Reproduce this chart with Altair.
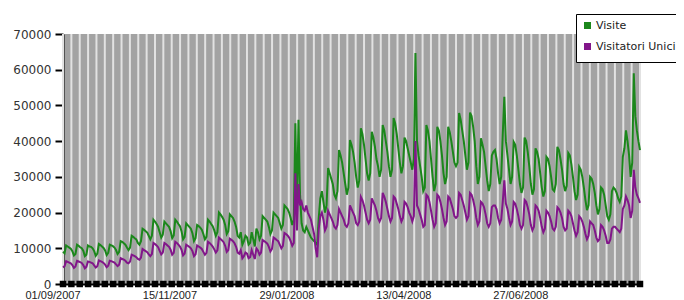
import altair as alt
import pandas as pd

# Daily values, one row per week (Sat, Sun, Mon, Tue, Wed, Thu, Fri), from 01/09/2007
visite_weeks = [
    [9000, 8600, 10800, 10500, 10200, 9900, 9200],
    [8000, 8400, 11000, 10700, 10300, 10000, 9300],
    [7800, 8200, 10800, 10500, 10400, 10000, 9200],
    [7900, 8500, 11200, 10900, 10500, 10100, 9400],
    [8100, 8700, 11000, 10800, 10600, 10200, 9500],
    [8400, 9000, 12000, 11800, 11400, 11000, 10200],
    [9500, 10200, 13500, 13200, 12800, 12500, 11500],
    [11000, 12000, 15500, 15200, 14800, 14400, 13500],
    [12500, 13500, 18000, 17500, 16800, 16000, 14500],
    [13000, 13800, 17500, 17000, 16500, 16000, 14800],
    [12800, 13600, 18000, 17500, 16800, 16200, 14800],
    [12500, 13200, 17000, 16500, 16000, 15500, 14200],
    [12000, 12800, 16500, 16200, 15800, 15200, 14000],
    [12500, 13200, 18000, 17500, 16800, 16200, 15000],
    [13500, 14500, 20000, 19500, 18800, 18000, 16500],
    [14000, 14800, 19500, 19000, 18500, 17500, 16000],
    [13500, 13000, 14500, 11000, 12000, 13500, 13000],
    [11000, 11500, 14500, 12500, 10500, 15500, 14500],
    [12500, 13500, 19000, 18500, 18000, 17500, 16000],
    [14000, 15000, 20000, 19500, 19000, 18500, 17000],
    [15500, 16500, 22000, 21500, 21000, 20000, 18500],
    [16500, 18000, 45000, 20000, 46000, 25000, 17000],
    [15000, 14500, 16000, 15000, 14000, 13000, 12500],
    [12000, 11500, 11000, 18500, 24000, 26000, 23000],
    [20000, 22000, 32500, 31000, 29500, 28000, 25000],
    [24000, 26000, 37500, 36000, 34000, 31000, 28000],
    [25000, 27000, 40300, 39000, 37000, 34000, 30000],
    [27000, 29000, 43600, 42000, 39000, 35000, 31000],
    [29000, 31000, 42600, 41000, 38500, 35000, 33000],
    [30000, 32000, 44500, 43000, 40000, 37000, 33000],
    [30000, 32000, 46500, 45000, 42000, 38000, 34000],
    [31000, 33000, 41000, 40000, 38000, 36000, 34000],
    [32000, 35000, 64700, 40000, 36000, 33000, 30000],
    [26000, 27000, 44500, 43000, 40000, 35000, 30000],
    [26000, 28000, 44000, 43000, 40000, 36000, 31000],
    [28000, 30000, 44000, 42500, 40000, 37000, 34000],
    [33000, 34000, 47900, 46000, 43000, 40000, 36000],
    [32000, 34000, 48000, 47000, 44000, 40000, 33000],
    [28000, 30000, 40800, 39000, 37000, 33000, 29000],
    [26000, 28000, 36000, 37000, 37500, 35000, 31000],
    [28000, 30000, 42000, 52400, 40000, 36000, 32000],
    [28000, 30000, 39800, 39000, 36000, 32000, 28000],
    [25500, 27000, 41000, 40000, 37000, 33000, 28000],
    [25000, 26500, 38000, 37000, 35000, 31000, 27000],
    [24500, 26000, 35600, 35000, 33000, 30000, 26500],
    [26000, 28000, 38400, 37500, 35000, 32000, 28000],
    [26000, 27500, 36700, 36000, 33500, 30000, 26000],
    [23500, 25000, 32800, 32000, 30000, 27000, 23500],
    [20700, 22000, 30000, 29500, 28000, 25500, 22000],
    [19500, 21000, 27000, 26500, 25000, 22000, 19000],
    [18000, 19500, 26000, 27000, 26500, 25500, 24000],
    [23000, 24500, 35600, 38000, 43000, 40000, 36000],
    [30000, 34000, 59000, 47000, 43000, 40000, 37500],
]

unici_weeks = [
    [4600, 5000, 6400, 6200, 6000, 5800, 5300],
    [4500, 4900, 6500, 6300, 6100, 5900, 5300],
    [4400, 4800, 6300, 6200, 6000, 5800, 5200],
    [4600, 5000, 6600, 6400, 6200, 5900, 5400],
    [4700, 5100, 6500, 6400, 6200, 6000, 5500],
    [5000, 5400, 7200, 7000, 6800, 6500, 6000],
    [5800, 6300, 8200, 8000, 7800, 7500, 7000],
    [6800, 7400, 9800, 9500, 9200, 8900, 8300],
    [7800, 8400, 11500, 11200, 10800, 10300, 9300],
    [8300, 8800, 11500, 11200, 10800, 10400, 9600],
    [8200, 8700, 11800, 11500, 11000, 10500, 9600],
    [8000, 8500, 11000, 10700, 10400, 10000, 9200],
    [7800, 8300, 10800, 10500, 10200, 9800, 9000],
    [8200, 8700, 11800, 11500, 11000, 10500, 9700],
    [8800, 9400, 13000, 12600, 12200, 11700, 10700],
    [9000, 9500, 12700, 12400, 12000, 11400, 10400],
    [8800, 8500, 9500, 7200, 7800, 8800, 8500],
    [7200, 7500, 9500, 8200, 7000, 10000, 9400],
    [8200, 8800, 12300, 12000, 11700, 11300, 10400],
    [9100, 9800, 13000, 12700, 12300, 12000, 11000],
    [10000, 10700, 14300, 14000, 13600, 13000, 12000],
    [10700, 11500, 31000, 15000, 28000, 22000, 23000],
    [21000, 20500, 22000, 20000, 19000, 18000, 16000],
    [14000, 10000, 7500, 15500, 19000, 20000, 18000],
    [15000, 16000, 20500, 19500, 18500, 17500, 16000],
    [15500, 16500, 21000, 20000, 19000, 18000, 16500],
    [16000, 17000, 22000, 21000, 20000, 19000, 17000],
    [16500, 17500, 24400, 23500, 22000, 20000, 18000],
    [17000, 18000, 24000, 23000, 22000, 20500, 18500],
    [17500, 18500, 25500, 24500, 23000, 21000, 19000],
    [17500, 18500, 24500, 24000, 22500, 21000, 19000],
    [17500, 18500, 23000, 22500, 21500, 20000, 19000],
    [17500, 19000, 40000, 22000, 21000, 19500, 18000],
    [16000, 16500, 25000, 24500, 23000, 20500, 18000],
    [16000, 17000, 25000, 24500, 23000, 21000, 18500],
    [16500, 17500, 24500, 24000, 22500, 21000, 19000],
    [18500, 19000, 25500, 25000, 23500, 22000, 20000],
    [18000, 19000, 25500, 25000, 23500, 21500, 18500],
    [16500, 17500, 23000, 22500, 21500, 19500, 17000],
    [16000, 17000, 21500, 22000, 22000, 21000, 18500],
    [17000, 18000, 23000, 29000, 22500, 21000, 18500],
    [16500, 17500, 23000, 22500, 21000, 19000, 16500],
    [15500, 16500, 23500, 23000, 21500, 19500, 16500],
    [15000, 16000, 22000, 21500, 20500, 18500, 16000],
    [14500, 15500, 20500, 20000, 19000, 17500, 15500],
    [15000, 16000, 21500, 21000, 20000, 18500, 16000],
    [15000, 15500, 20500, 20000, 19000, 17000, 15000],
    [13500, 14500, 19000, 18500, 17500, 16000, 14000],
    [12500, 13500, 17500, 17000, 16500, 15000, 13000],
    [12000, 12500, 16500, 16000, 15000, 13500, 11500],
    [11500, 12500, 15500, 16000, 16000, 15500, 15000],
    [14500, 15500, 21000, 22000, 24500, 23500, 22000],
    [18500, 20500, 32000, 27000, 25000, 24000, 22700],
]

series_names = ["Visite", "Visitatori Unici"]
series_colors = ["#1b871b", "#82168a"]
start_date = "2007-09-01"
tick_label_dates = ["2007-09-01", "2007-11-15", "2008-01-29", "2008-04-13", "2008-06-27"]
y_ticks = [0, 10000, 20000, 30000, 40000, 50000, 60000, 70000]

visite = [v for w in visite_weeks for v in w]
unici = [v for w in unici_weeks for v in w]
dates = pd.date_range(start_date, periods=len(visite), freq="D")

df = pd.concat([
    pd.DataFrame({"data": dates, "valore": visite, "serie": series_names[0]}),
    pd.DataFrame({"data": dates, "valore": unici, "serie": series_names[1]}),
])

# background stripe positions (evenly spaced across the date range)
n_stripes = 69
span = dates[-1] - dates[0]
stripe_dates = [dates[0] + span * k / n_stripes for k in range(n_stripes + 1)]
stripes = pd.DataFrame({"data": stripe_dates, "y0": 0, "y1": 70000})

labels_df = pd.DataFrame({
    "data": pd.to_datetime(tick_label_dates),
    "testo": [pd.Timestamp(d).strftime("%d/%m/%Y") for d in tick_label_dates],
})

def dt(t):
    t = pd.Timestamp(t)
    return alt.DateTime(year=t.year, month=t.month, date=t.day)

x_scale = alt.Scale(domain=[dt(dates[0]), dt(dates[-1])], nice=False)
y_scale = alt.Scale(domain=[0, 70000], nice=False)
color_scale = alt.Scale(domain=series_names, range=series_colors)

x_axis = alt.Axis(values=[dt(d) for d in tick_label_dates], labels=False, title=None)
y_axis = alt.Axis(values=y_ticks, title=None, format="d")

X = lambda f: alt.X(f, type="temporal", scale=x_scale, axis=x_axis)
Y = lambda f: alt.Y(f, type="quantitative", scale=y_scale, axis=y_axis)

stripe_layer = alt.Chart(stripes).mark_rule(color="#e2e2e2", strokeWidth=2).encode(
    x=X("data"), y=Y("y0"), y2="y1:Q",
)

square_layer = alt.Chart(stripes).mark_square(color="black", size=42, opacity=1).encode(
    x=X("data"), y=Y("y0"),
)

label_layer = alt.Chart(labels_df).mark_text(
    font="Liberation Sans", fontSize=11, color="#222", dx=-10, dy=6, baseline="top",
    align="center",
).encode(
    x=X("data"),
    y=alt.value(250),
    text="testo:N",
)

legend = alt.Legend(
    title=None, orient="none", legendX=513, legendY=-20,
    fillColor="white", strokeColor="black", padding=6, rowPadding=2,
    symbolType="square", symbolSize=9, symbolStrokeWidth=4,
    labelFont="DejaVu Sans", labelFontSize=11, labelColor="#222", labelOffset=3,
)

def line_layer(name):
    return alt.Chart(df[df["serie"] == name]).mark_line(strokeWidth=2).encode(
        x=X("data"), y=Y("valore"),
        color=alt.Color("serie:N", scale=color_scale, legend=legend),
    )

chart = alt.layer(
    stripe_layer, line_layer(series_names[0]), line_layer(series_names[1]),
    square_layer, label_layer,
).properties(
    width=577, height=250,
    autosize=alt.AutoSizeParams(type="none"),
    padding={"left": 55, "top": 26, "right": 36, "bottom": 16},
).configure_view(
    fill="#a3a3a3", stroke=None
).configure_axisY(
    grid=False, labelOverlap=False, tickColor="black", tickSize=8, tickWidth=2,
    domainColor="black", domainWidth=2, labelFont="DejaVu Sans", labelFontSize=12,
    labelColor="#333", labelPadding=4,
).configure_axisX(
    grid=False, ticks=False, domainColor="black", domainWidth=2,
)

chart.save("out.html", embed_options={"renderer": "svg", "actions": False})
